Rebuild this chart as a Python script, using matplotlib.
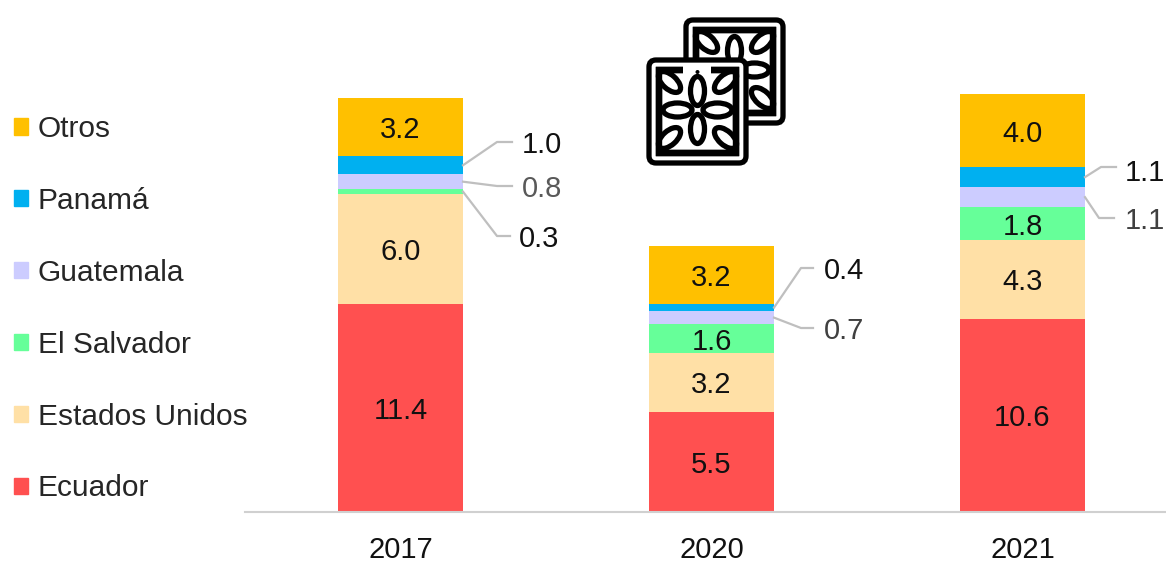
import matplotlib
matplotlib.use("Agg")
import matplotlib.pyplot as plt
from matplotlib.patches import Ellipse, FancyBboxPatch, Patch, Rectangle
import numpy as np

plt.rcParams['font.family'] = ['Liberation Sans', 'DejaVu Sans']

years = ["2017", "2020", "2021"]
series = ["Ecuador", "Estados Unidos", "El Salvador", "Guatemala", "Panamá", "Otros"]
ecuador = [11.4, 5.5, 10.6]
estados_unidos = [6.0, 3.2, 4.3]
el_salvador = [0.3, 1.6, 1.8]
guatemala = [0.8, 0.7, 1.1]
panama = [1.0, 0.4, 1.1]
otros = [3.2, 3.2, 4.0]
colors = ["#FF5050", "#FFE0A6", "#66FF99", "#CCCCFF", "#00B0F0", "#FFC000"]

W, H = 1166, 563
BASE_Y = 512
PX_PER_UNIT = 18.25
PX_PER_BAR = 311
FS = 21

fig = plt.figure(figsize=(W / 100, H / 100), dpi=100)
ax = fig.add_axes([245 / W, (H - BASE_Y) / H, 1 - 245 / W, BASE_Y / H])
ax.set_xlim(-155.5 / PX_PER_BAR, (W - 400.5) / PX_PER_BAR)
ax.set_ylim(0, BASE_Y / PX_PER_UNIT)

x = np.arange(len(years))
all_values = [ecuador, estados_unidos, el_salvador, guatemala, panama, otros]
bottom = np.zeros(len(years))
bottoms = []
bar_w = 125 / PX_PER_BAR
for name, vals, col in zip(series, all_values, colors):
    ax.bar(x, vals, bar_w, bottom=bottom, color=col, label=name)
    bottoms.append(bottom.copy())
    bottom = bottom + np.array(vals)

# labels inside the bars, the thin ones get a leader line instead
inside = {0: [0, 1, 5], 1: [0, 1, 2, 5], 2: [0, 1, 2, 5]}
for i, rows in inside.items():
    for s in rows:
        ax.text(x[i], bottoms[s][i] + all_values[s][i] / 2, f"{all_values[s][i]:.1f}",
                ha="center", va="center_baseline", fontsize=FS, color="#111111")

# leader lines: bar, series, line height, label height, elbow, line end, label gap, text colour
leaders = [
    (0, 4, 142, 142, 34, 49, 10, "#111111"),
    (0, 3, 186, 186, 34, 49, 10, "#595959"),
    (0, 2, 236, 236, 34, 47, 9, "#111111"),
    (1, 4, 268, 268, 27, 39, 11, "#111111"),
    (1, 3, 328, 328, 27, 39, 11, "#404040"),
    (2, 4, 167, 170, 16, 31, 9, "#111111"),
    (2, 3, 218, 218, 14, 29, 11, "#404040"),
]
for i, s, py, ty, elbow, end, gap, tc in leaders:
    y0 = bottoms[s][i] + all_values[s][i] / 2
    y1 = (BASE_Y - py) / PX_PER_UNIT
    x0 = x[i] + bar_w / 2
    x1 = x0 + elbow / PX_PER_BAR
    x2 = x0 + end / PX_PER_BAR
    ax.plot([x0, x1, x2], [y0, y1, y1], color="#BFBFBF", lw=1.6, clip_on=False)
    ax.text(x2 + gap / PX_PER_BAR, (BASE_Y - ty) / PX_PER_UNIT, f"{all_values[s][i]:.1f}",
            ha="left", va="center_baseline", fontsize=FS, color=tc)

ax.set_xticks(x, years, fontsize=FS, color="#111111")
ax.tick_params(axis="x", length=0, pad=17)
ax.set_yticks([])
for sp in ["top", "right", "left"]:
    ax.spines[sp].set_visible(False)
ax.spines["bottom"].set_color("#D0D0D0")
ax.spines["bottom"].set_linewidth(1.5)

handles = [Patch(color=c, label=n) for n, c in zip(series, colors)][::-1]
fig.legend(handles=handles, loc="upper left", bbox_to_anchor=(14 / W, 1 - 115 / H),
           frameon=False, fontsize=21.5, labelspacing=1.47, handlelength=0.47,
           handleheight=0.47, handletextpad=0.33, borderpad=0, borderaxespad=0,
           labelcolor="#262626")

# tile icon, drawn in pixel coordinates
ic = fig.add_axes([0, 0, 1, 1], zorder=5)
ic.set_xlim(0, W)
ic.set_ylim(H, 0)
ic.axis("off")
ic.patch.set_alpha(0)


def tile(x0, y0, gap):
    ink = "black"
    lw = 3.8
    ic.add_patch(FancyBboxPatch((x0 + 3, y0 + 3), 97, 103, boxstyle="round,pad=0,rounding_size=7",
                                fc="white", ec=ink, lw=lw))
    ic.add_patch(Rectangle((x0 + 13, y0 + 13), 77, 83, fc="white", ec=ink, lw=4.6))
    cx, cy = x0 + 51.5, y0 + 53
    for dx, dy, w, h, ang in [(0, -19, 14, 29, 0), (0, 19, 14, 29, 0),
                              (-20, 0, 29, 14, 0), (20, 0, 29, 14, 0),
                              (-28, -28, 27, 14, 42), (28, -28, 27, 14, -42),
                              (-28, 28, 27, 14, -42), (28, 28, 27, 14, 42)]:
        ic.add_patch(Ellipse((cx + dx, cy + dy), w, h, angle=ang, fc="white", ec=ink, lw=lw))
    ic.add_patch(Rectangle((x0 + 13, y0 + 13), 77, 83, fc="none", ec=ink, lw=4.6))
    if gap:
        ic.add_patch(Rectangle((x0 + 37, y0 + 9), 28, 8, fc="white", ec="none"))
        ic.add_patch(Ellipse((cx, y0 + 15), 4, 4, fc=ink, ec="none"))


tile(683, 17, False)
tile(646, 57, True)

fig.savefig("out.png", dpi=100)
